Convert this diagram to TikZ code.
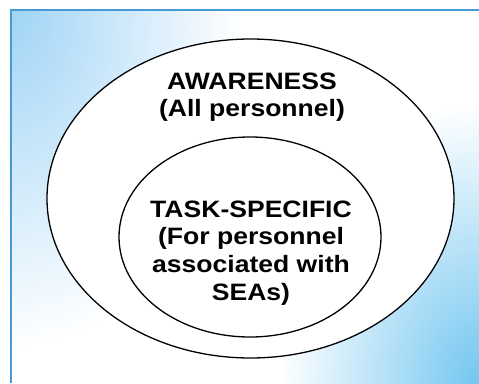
\documentclass[tikz,border=0pt]{standalone}
\usepackage{fontspec}
\setmainfont{Liberation Sans}
\usetikzlibrary{shapes.geometric}
\definecolor{tlblue}{RGB}{160,212,246}
\definecolor{brblue}{RGB}{115,198,240}
\definecolor{edgeblue}{RGB}{70,155,215}
\tikzset{
  ring/.style={draw=black,line width=1.3pt,fill=white,ellipse,inner sep=0pt},
  ringtext/.style={anchor=north,inner sep=0pt,align=center,xscale=1.12,
    font=\bfseries\fontsize{23.7}{27.8}\selectfont}
}
\begin{document}
\begin{tikzpicture}[x=1pt,y=-1pt]
  \useasboundingbox (0,0) rectangle (479,383);
  \fill[white] (0,0) rectangle (479,383);
  % panel behind the rings, blue in two corners
  \begin{scope}
    \clip (11,9) rectangle (479,383);
    \shade[inner color=tlblue,outer color=white] (11,9) ellipse (230 and 340);
    \shade[inner color=brblue,outer color=white] (479,383) ellipse (200 and 280);
  \end{scope}
  \draw[edgeblue,line width=2pt] (479,9.5) -- (11,9.5) -- (11,383);
  % the two rings
  \node[ring,minimum width=407pt,minimum height=319pt] (outer) at (250.5,198.5) {};
  \node[ring,minimum width=262pt,minimum height=200pt] (inner) at (250,237) {};
  \node[ringtext] (awareness) at (252,72.3) {AWARENESS\\(All personnel)};
  \node[ringtext] (taskspecific) at (251,200.3) {TASK-SPECIFIC\\(For personnel\\associated with\\SEAs)};
\end{tikzpicture}
\end{document}
